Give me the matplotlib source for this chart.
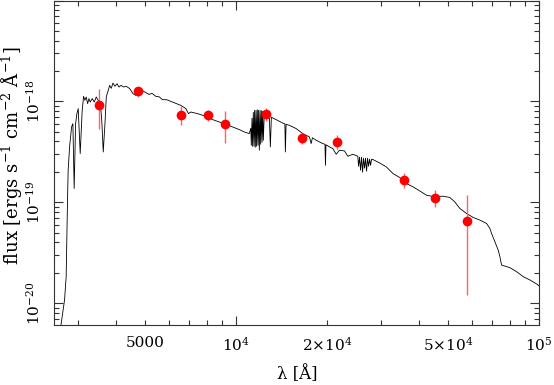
import numpy as np
import matplotlib
matplotlib.use('Agg')
import matplotlib.pyplot as plt
from matplotlib.ticker import LogLocator, FuncFormatter

# ---- model spectrum, log10 units ----
log_wave = [3.4205, 3.4328, 3.4381, 3.4404, 3.4428, 3.4447, 3.4494, 3.4560, 3.4603, 3.4646,
            3.4693, 3.4736, 3.4779, 3.4845, 3.4911, 3.4957, 3.5000, 3.5044, 3.5090, 3.5133,
            3.5176, 3.5242, 3.5308, 3.5375, 3.5441, 3.5497, 3.5530, 3.5563, 3.5606, 3.5663,
            3.5706, 3.5772, 3.5818, 3.5871, 3.5927, 3.5994, 3.6060, 3.6126, 3.6192, 3.6282,
            3.6368, 3.6480, 3.6590, 3.6679, 3.6812, 3.6921, 3.7119, 3.7219, 3.7341, 3.7451,
            3.7560, 3.7715, 3.7891, 3.8169, 3.8335, 3.8421, 3.8500, 3.8719, 3.8997, 3.9215,
            3.9437, 3.9659, 3.9877, 4.0099, 4.0265, 4.0430, 4.0480, 4.0497, 4.0520, 4.0540,
            4.0563, 4.0586, 4.0606, 4.0629, 4.0652, 4.0672, 4.0695, 4.0718, 4.0738, 4.0762,
            4.0785, 4.0805, 4.0828, 4.0851, 4.0871, 4.0894, 4.0927, 4.1093, 4.1126, 4.1159,
            4.1314, 4.1533, 4.1606, 4.1622, 4.1646, 4.1755, 4.1977, 4.2195, 4.2417, 4.2473,
            4.2516, 4.2639, 4.2857, 4.2930, 4.2947, 4.2963, 4.3079, 4.3188, 4.3301, 4.3410,
            4.3576, 4.3685, 4.3851, 4.4016, 4.4039, 4.4072, 4.4105, 4.4139, 4.4172, 4.4205,
            4.4238, 4.4271, 4.4304, 4.4338, 4.4371, 4.4404, 4.4437, 4.4470, 4.4513, 4.4735,
            4.4957, 4.5175, 4.5397, 4.5619, 4.5837, 4.6059, 4.6281, 4.6499, 4.6830, 4.7053,
            4.7218, 4.7384, 4.7605, 4.7824, 4.8046, 4.8267, 4.8377, 4.8433, 4.8542, 4.8652,
            4.8708, 4.8764, 4.8874, 4.9040, 4.9262, 4.9480, 4.9702, 4.9924, 5.0033]
log_flux = [-20.228, -19.970, -19.739, -19.343, -18.947, -18.683, -18.452, -18.254, -18.221, -18.864,
            -18.221, -18.122, -18.072, -18.518, -18.089, -17.950, -17.990, -17.957, -18.023, -17.973,
            -18.007, -17.973, -18.007, -17.957, -17.990, -18.020, -18.089, -18.221, -18.502, -18.221,
            -17.957, -17.891, -17.842, -17.871, -17.819, -17.851, -17.825, -17.858, -17.842, -17.858,
            -17.851, -17.874, -17.924, -17.941, -17.908, -17.898, -17.931, -17.921, -17.950, -17.955,
            -17.983, -17.985, -18.007, -18.040, -18.072, -18.122, -18.106, -18.122, -18.149, -18.181,
            -18.205, -18.228, -18.254, -18.280, -18.304, -18.320, -18.267, -18.436, -18.168, -18.446,
            -18.109, -18.446, -18.089, -18.455, -18.089, -18.446, -18.084, -18.436, -18.089, -18.485,
            -18.089, -18.426, -18.094, -18.406, -18.099, -18.386, -18.109, -18.155, -18.452, -18.158,
            -18.181, -18.215, -18.223, -18.502, -18.228, -18.238, -18.270, -18.320, -18.353, -18.419,
            -18.361, -18.386, -18.419, -18.426, -18.634, -18.431, -18.452, -18.468, -18.525, -18.485,
            -18.492, -18.545, -18.525, -18.545, -18.644, -18.554, -18.683, -18.554, -18.703, -18.564,
            -18.663, -18.564, -18.693, -18.564, -18.644, -18.574, -18.634, -18.574, -18.577, -18.611,
            -18.650, -18.716, -18.755, -18.815, -18.848, -18.888, -18.931, -18.944, -18.941, -18.953,
            -18.997, -19.062, -19.112, -19.151, -19.178, -19.211, -19.260, -19.310, -19.393, -19.475,
            -19.541, -19.624, -19.634, -19.650, -19.690, -19.739, -19.772, -19.812, -19.838]

# ---- photometry ----
phot_wave = [3520, 4750, 6580, 8080, 9150, 12520, 16500, 21440, 35730, 45250, 57750]
phot_flux = [9.27e-19, 1.256e-18, 7.38e-19, 7.27e-19, 5.92e-19, 7.52e-19,
             4.33e-19, 3.99e-19, 1.663e-19, 1.108e-19, 6.44e-20]
phot_err = [3.9e-19, 1.45e-19, 1.55e-19, 8.5e-20, 2.1e-19, 1.1e-19,
            5.5e-20, 6.5e-20, 2.9e-20, 2.1e-20, 5.25e-20]

# ---- tick labels ----
x_tick_values = [5000, 1e4, 2e4, 5e4, 1e5]
x_tick_labels = ['5000', r'$10^4$', r'$2{\times}10^4$', r'$5{\times}10^4$', r'$10^5$']
y_tick_values = [1e-20, 1e-19, 1e-18]
y_tick_labels = [r'$10^{-20}$', r'$10^{-19}$', r'$10^{-18}$']

plt.rcParams['font.family'] = ['DejaVu Serif']
plt.rcParams['mathtext.fontset'] = 'dejavuserif'

W, H = 554, 385
fig = plt.figure(figsize=(W / 100, H / 100), dpi=100)
ax = fig.add_axes([54 / W, 1 - 325 / H, (539 - 54) / W, (325 - 0.5) / H])

ax.plot(10 ** np.array(log_wave), 10 ** np.array(log_flux), color='black', lw=0.6)
ax.errorbar(phot_wave, phot_flux, yerr=phot_err, fmt='none', ecolor='#ff6464',
            elinewidth=1.0, capsize=0, zorder=3)
ax.plot(phot_wave, phot_flux, 'o', color='red', markersize=7, markeredgewidth=0, zorder=4)

ax.set_xscale('log')
ax.set_yscale('log')
ax.set_xlim(2500, 1e5)
ax.set_ylim(6.05e-21, 1e-17)

ax.xaxis.set_major_locator(LogLocator(base=10, numticks=20))
ax.xaxis.set_minor_locator(LogLocator(base=10, subs=np.arange(2, 10), numticks=20))
ax.yaxis.set_major_locator(LogLocator(base=10, numticks=20))
ax.yaxis.set_minor_locator(LogLocator(base=10, subs=np.arange(2, 10), numticks=20))

xl = dict(zip(x_tick_values, x_tick_labels))
yl = dict(zip(y_tick_values, y_tick_labels))

def xfmt(v, pos):
    for k, s in xl.items():
        if abs(v / k - 1) < 1e-6:
            return s
    return ''

def yfmt(v, pos):
    for k, s in yl.items():
        if abs(v / k - 1) < 1e-6:
            return s
    return ''

ax.xaxis.set_major_formatter(FuncFormatter(xfmt))
ax.xaxis.set_minor_formatter(FuncFormatter(xfmt))
ax.yaxis.set_major_formatter(FuncFormatter(yfmt))
ax.yaxis.set_minor_formatter(FuncFormatter(yfmt))

ax.tick_params(which='both', direction='in', top=True, right=True, width=0.8, color='#333333')
ax.tick_params(which='major', length=6.5)
ax.tick_params(which='minor', length=3.6)
ax.tick_params(axis='x', which='both', labelsize=11, pad=8)
ax.tick_params(axis='y', which='both', labelsize=11, pad=8, labelrotation=90)
for t in ax.get_yticklabels(which='both'):
    t.set_va('center')
for s in ax.spines.values():
    s.set_linewidth(0.8)
    s.set_color('#333333')

fig.text(297 / W, 1 - 374 / H, 'λ [Å]', ha='center', va='center', fontsize=12)
fig.text(12 / W, 1 - 156 / H, r'flux [ergs s$^{-1}$ cm$^{-2}$ Å$^{-1}$]',
         ha='center', va='center', rotation=90, fontsize=13)

fig.savefig('out.png', dpi=100)
